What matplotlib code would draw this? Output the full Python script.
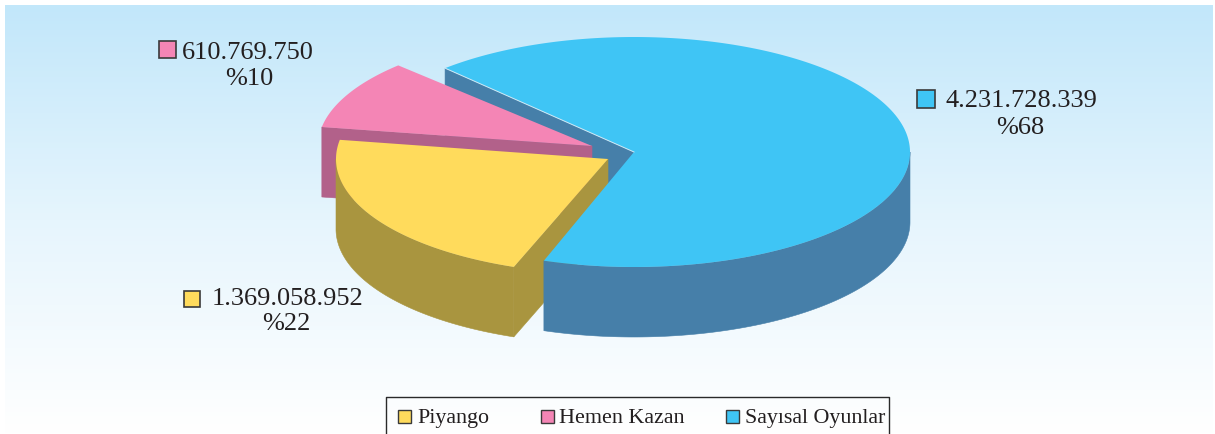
import numpy as np
import matplotlib
matplotlib.use('Agg')
import matplotlib.pyplot as plt
from matplotlib.colors import LinearSegmentedColormap
from matplotlib.patches import Polygon, Rectangle

# data
categories = ['Piyango', 'Hemen Kazan', 'Sayısal Oyunlar']
values = [1369058952, 610769750, 4231728339]
value_labels = ['1.369.058.952', '610.769.750', '4.231.728.339']
pct_labels = ['%22', '%10', '%68']

# colours: top, side
top_colors = ['#FFDB5C', '#F485B5', '#3FC5F5']
side_colors = ['#A9953F', '#B2618A', '#467FA9']
serif = 'Liberation Serif'
text_color = '#231F20'

# pie layout in pixels
centers = [(608, 159), (592, 146), (634, 152)]
radii = [(272, 115), (274, 114), (276, 115)]
depth = 70

fig = plt.figure(figsize=(12.15, 4.34), dpi=100)
ax = fig.add_axes([0, 0, 1, 1])
ax.set_xlim(0, 1215)
ax.set_ylim(434, 0)
ax.axis('off')

# background gradient
cmap = LinearSegmentedColormap.from_list('bg', ['#C2E7FA', '#E6F5FD', '#FFFFFF'])
ax.imshow(np.linspace(0, 1, 256).reshape(-1, 1), cmap=cmap, aspect='auto',
          extent=(5, 1213, 434, 5), zorder=0)
ax.set_xlim(0, 1215)
ax.set_ylim(434, 0)


def arc(i, a0, a1):
    t = np.radians(np.linspace(a0, a1, 200))
    cx, cy = centers[i]
    rx, ry = radii[i]
    return np.column_stack([cx + rx * np.cos(t), cy - ry * np.sin(t)])


def down(pts):
    return pts + np.array([0, depth])


# slice angles from the values, counter-clockwise from the upper left
total = sum(values)
sweep = [v / total * 360 for v in values]
pink_a0 = 135
pink_a1 = pink_a0 + sweep[1]
yellow_a1 = pink_a1 + sweep[0]
blue_a1 = yellow_a1 + sweep[2]
# the big slice is trimmed a little at both cuts
blue_start = yellow_a1 + 1.2
blue_end = blue_a1 - 1.8


def edge(i, a):
    return arc(i, a, a)[:1]


def cut_face(i, a, z):
    c = np.array([centers[i]], dtype=float)
    p = edge(i, a)
    pts = np.vstack([c, p, down(p), down(c)])
    ax.add_patch(Polygon(pts, closed=True, fc=side_colors[i], ec=side_colors[i], lw=0.4, zorder=z))


def wall(i, a0, a1, z):
    pts = arc(i, a0, a1)
    ax.add_patch(Polygon(np.vstack([pts, down(pts)[::-1]]), closed=True,
                         fc=side_colors[i], ec=side_colors[i], lw=0.4, zorder=z))


def top(i, a0, a1, z):
    pts = np.vstack([[centers[i]], arc(i, a0, a1)])
    ax.add_patch(Polygon(pts, closed=True, fc=top_colors[i], ec='none', zorder=z))


# back cut of the big slice
cut_face(2, blue_end, 2)

# Hemen Kazan
cut_face(1, pink_a1, 3)
top(1, pink_a0, pink_a1, 4)

# Piyango
wall(0, 180, yellow_a1, 5)
cut_face(0, yellow_a1, 5)
top(0, pink_a1, yellow_a1, 6)

# Sayısal Oyunlar
wall(2, blue_start, 360, 7)
top(2, blue_start, blue_end, 8)

# light line on the cut edge
blue_edge = np.vstack([edge(2, blue_end - 360), [centers[2]]])
ax.plot(blue_edge[:, 0], blue_edge[:, 1], color='#CFEAF7', lw=0.7, zorder=9)

# value labels
swatches = [(184, 291, 16), (159, 41, 17), (917, 90, 18)]
label_pos = [(212, 299), (182, 53), (945, 101)]
pct_pos = [(286, 324), (249, 79), (1020, 128)]
for i in range(3):
    sx, sy, ss = swatches[i]
    ax.add_patch(Rectangle((sx, sy), ss, ss, fc=top_colors[i], ec='#3A3A3A', lw=1.2, zorder=10))
    ax.text(label_pos[i][0], label_pos[i][1], value_labels[i], family=serif, fontsize=19,
            color=text_color, ha='left', va='center', zorder=10)
    ax.text(pct_pos[i][0], pct_pos[i][1], pct_labels[i], family=serif, fontsize=19,
            color=text_color, ha='center', va='center', zorder=10)

# legend box, open at the bottom edge of the picture
ax.plot([386, 386, 889, 889], [434, 397, 397, 434], color='#2A2A2A', lw=1.0, zorder=10,
        clip_on=False)
leg_swatch = [398, 541, 726]
leg_text = [417, 559, 745]
for i in range(3):
    ax.add_patch(Rectangle((leg_swatch[i], 410), 13, 13, fc=top_colors[i], ec='#3A3A3A',
                           lw=1.0, zorder=10))
    ax.text(leg_text[i], 423, categories[i], family=serif, fontsize=15.8, color=text_color,
            ha='left', va='baseline', zorder=10)

plt.savefig('out.png', dpi=100)
